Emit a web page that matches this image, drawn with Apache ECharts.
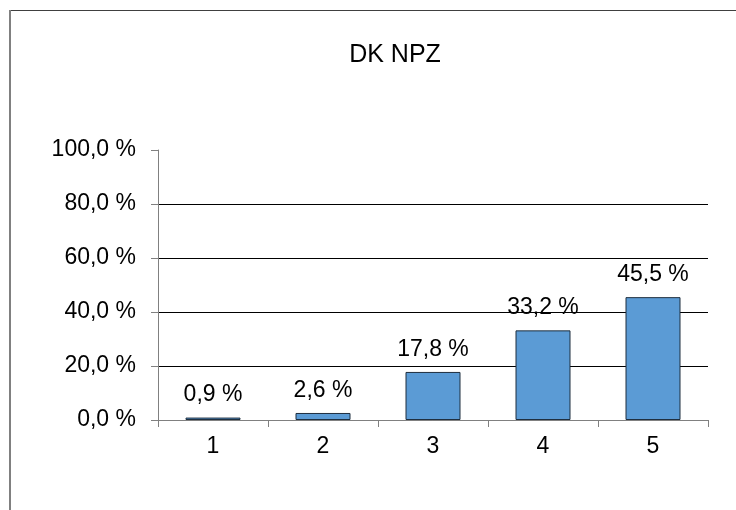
<!DOCTYPE html>
<html lang="de">
<head>
<meta charset="UTF-8">
<title>DK NPZ</title>
<script src="https://cdn.jsdelivr.net/npm/echarts@6/dist/echarts.min.js"></script>
<style>
  html, body { margin: 0; padding: 0; background: #fff; }
  #chart { width: 736px; height: 510px; }
</style>
</head>
<body>
<div id="chart"></div>
<script>
  // data
  const categories = ['1', '2', '3', '4', '5'];
  const values = [0.9, 2.6, 17.8, 33.2, 45.5];

  const fmt = v => v.toFixed(1).replace('.', ',') + ' %';
  const font = 'Liberation Sans, Arial, sans-serif';

  const chart = echarts.init(document.getElementById('chart'));
  chart.setOption({
    animation: false,
    title: {
      text: 'DK NPZ',
      left: 390,
      top: 38,
      textAlign: 'center',
      textStyle: { fontFamily: font, fontSize: 25, fontWeight: 'normal', color: '#000' }
    },
    // outer chart frame (only top and left edges fall inside the picture)
    graphic: [
      { type: 'line', shape: { x1: 10, y1: 10.5, x2: 736, y2: 10.5 }, style: { stroke: '#404040', lineWidth: 1 } },
      { type: 'line', shape: { x1: 10, y1: 10, x2: 10, y2: 510 }, style: { stroke: '#808080', lineWidth: 2 } }
    ],
    grid: { left: 158, right: 28, top: 150, bottom: 90 },
    xAxis: {
      type: 'category',
      data: categories,
      axisLine: { lineStyle: { color: '#808080', width: 1 } },
      axisTick: { show: true, alignWithLabel: false, length: 7, lineStyle: { color: '#808080' } },
      axisLabel: { fontFamily: font, fontSize: 23, color: '#000', margin: 15 }
    },
    yAxis: {
      type: 'value',
      min: 0,
      max: 100,
      interval: 20,
      axisLine: { show: true, lineStyle: { color: '#808080', width: 1 } },
      axisTick: { show: true, length: 7, lineStyle: { color: '#808080' } },
      axisLabel: { fontFamily: font, fontSize: 23, color: '#000', margin: 22, formatter: fmt },
      splitLine: {
        show: true,
        lineStyle: { color: ['transparent', '#000', '#000', '#000', '#000', 'transparent'], width: 1 }
      }
    },
    series: [{
      type: 'bar',
      data: values,
      barWidth: '50%',
      itemStyle: { color: '#5b9bd5', borderColor: '#1f2f3f', borderWidth: 1 },
      label: {
        show: true,
        position: 'top',
        distance: 11,
        fontFamily: font,
        fontSize: 23,
        color: '#000',
        formatter: p => fmt(p.value)
      }
    }]
  });
</script>
</body>
</html>
